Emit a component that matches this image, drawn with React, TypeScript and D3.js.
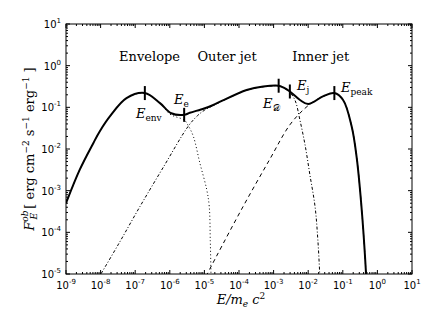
import React from 'react';
import * as d3 from 'd3';

// figure size and plot box
const W = 436;
const H = 327;
const margin = { top: 24, right: 24, bottom: 53, left: 66 };

// total spectrum (solid)
const totalE = [1e-9, 2.5e-9, 6.2e-9, 9.6e-9, 1.9e-8, 5.6e-8, 1.9e-7, 5.2e-7, 1.1e-6, 2.6e-6, 3.8e-6, 9.8e-6, 1.8e-5, 1.66e-4, 5.0e-4, 1.4e-3, 1.9e-3, 2.95e-3, 5.8e-3, 1.0e-2, 2.75e-2, 5.7e-2, 0.102, 0.18, 0.25, 0.34, 0.47, 0.5];
const totalF = [5.0e-4, 3.2e-3, 1.4e-2, 0.027, 0.062, 0.166, 0.22, 0.126, 0.072, 0.066, 0.074, 0.094, 0.114, 0.26, 0.316, 0.33, 0.30, 0.24, 0.15, 0.12, 0.186, 0.22, 0.15, 0.035, 6.6e-3, 5.0e-4, 1.0e-5, 3e-6];

// envelope component (dotted)
const envE = [1e-9, 2.5e-9, 6.2e-9, 9.6e-9, 1.9e-8, 5.6e-8, 1.9e-7, 5.2e-7, 1.0e-6, 1.6e-6, 2.6e-6, 3.5e-6, 4.8e-6, 7.4e-6, 1.17e-5, 1.38e-5, 1.48e-5, 1.55e-5, 1.6e-5];
const envF = [5.0e-4, 3.2e-3, 1.4e-2, 0.027, 0.062, 0.166, 0.22, 0.126, 0.069, 0.058, 0.050, 0.035, 0.020, 4.6e-3, 1.05e-3, 4.2e-4, 6.3e-5, 1.0e-5, 2e-6];

// outer jet component (dash-dot)
const outerE = [7.9e-9, 3.2e-8, 1.38e-7, 6.3e-7, 3.4e-6, 6.3e-6, 1.0e-5, 1.8e-5, 1.66e-4, 5.0e-4, 1.4e-3, 1.9e-3, 2.95e-3, 4.2e-3, 5.75e-3, 8.1e-3, 1.12e-2, 1.58e-2, 1.9e-2, 2.14e-2, 2.24e-2];
const outerF = [7e-6, 5e-5, 4.2e-4, 3.5e-3, 0.035, 0.063, 0.085, 0.11, 0.257, 0.31, 0.324, 0.295, 0.229, 0.145, 0.05, 0.0126, 2.4e-3, 4.1e-4, 6.6e-5, 1.1e-5, 4e-6];

// inner jet component (dashed)
const innerE = [1.12e-5, 2.2e-5, 1.32e-4, 7.6e-4, 2.95e-3, 8.1e-3, 1.58e-2, 2.75e-2, 5.7e-2, 0.102, 0.18, 0.25, 0.34, 0.47, 0.5];
const innerF = [8.9e-6, 2.6e-5, 4.2e-4, 5.5e-3, 0.038, 0.095, 0.145, 0.182, 0.216, 0.15, 0.035, 6.6e-3, 5.0e-4, 1.0e-5, 3e-6];

// marked energies on the total curve
const markE = [1.9e-7, 2.6e-6, 1.4e-3, 2.95e-3, 5.7e-2];
const markF = [0.22, 0.066, 0.33, 0.24, 0.22];

// tick exponents
const xTickExps = [-9, -8, -7, -6, -5, -4, -3, -2, -1, 0, 1];
const yTickExps = [-5, -4, -3, -2, -1, 0, 1];

const regionLabels = ['Envelope', 'Outer jet', 'Inner jet'];
const regionE = [2.6e-7, 4.5e-5, 2.3e-2];

export default function App() {
  const x = d3
    .scaleLog()
    .domain([1e-9, 1e1])
    .range([margin.left, W - margin.right]);
  const y = d3
    .scaleLog()
    .domain([1e-5, 1e1])
    .range([H - margin.bottom, margin.top]);

  const line = d3
    .line<[number, number]>()
    .x((d) => x(d[0]))
    .y((d) => y(d[1]))
    .curve(d3.curveCatmullRom.alpha(0.5));

  const x0 = margin.left;
  const x1 = W - margin.right;
  const y0 = H - margin.bottom;
  const y1 = margin.top;

  // minor ticks 2..9 in each decade
  const minor = (exps: number[]) =>
    exps.slice(0, -1).flatMap((k) => d3.range(2, 10).map((m) => m * Math.pow(10, k)));

  const tickFont = "'DejaVu Sans', sans-serif";
  const serif = "'DejaVu Serif', serif";

  const sub = (s: string, size = 9, dy = 3) => (
    <tspan fontStyle="normal" fontSize={size} dy={dy}>
      {s}
    </tspan>
  );

  return (
    <svg width={W} height={H} style={{ position: 'absolute', left: 0, top: 0, background: '#fff' }}>
      <defs>
        <clipPath id="plot">
          <rect x={x0} y={y1} width={x1 - x0} height={y0 - y1} />
        </clipPath>
      </defs>

      <g clipPath="url(#plot)" fill="none">
        <path d={line(d3.zip(envE, envF) as [number, number][]) || ''} stroke="#000" strokeWidth={1} strokeDasharray="1,2.5" />
        <path d={line(d3.zip(outerE, outerF) as [number, number][]) || ''} stroke="#000" strokeWidth={1} strokeDasharray="3,2,1,2" />
        <path d={line(d3.zip(innerE, innerF) as [number, number][]) || ''} stroke="#000" strokeWidth={1} strokeDasharray="4,3.5" />
        <path d={line(d3.zip(totalE, totalF) as [number, number][]) || ''} stroke="#000" strokeWidth={2} />
      </g>

      {markE.map((e, i) => (
        <line key={i} x1={x(e)} x2={x(e)} y1={y(markF[i]) - 7} y2={y(markF[i]) + 7} stroke="#000" strokeWidth={2} />
      ))}

      {/* frame */}
      <rect x={x0} y={y1} width={x1 - x0} height={y0 - y1} fill="none" stroke="#000" strokeWidth={1} />

      {/* x ticks, bottom and top */}
      {xTickExps.map((k) => (
        <g key={'xt' + k}>
          <line x1={x(Math.pow(10, k))} x2={x(Math.pow(10, k))} y1={y0} y2={y0 - 4} stroke="#000" />
          <line x1={x(Math.pow(10, k))} x2={x(Math.pow(10, k))} y1={y1} y2={y1 + 4} stroke="#000" />
          <text x={x(Math.pow(10, k))} y={y0 + 15} fontFamily={tickFont} fontSize={10} textAnchor="middle">
            10
            <tspan fontSize={7} dy={-5}>
              {k}
            </tspan>
          </text>
        </g>
      ))}
      {minor(xTickExps).map((v, i) => (
        <g key={'xm' + i}>
          <line x1={x(v)} x2={x(v)} y1={y0} y2={y0 - 2} stroke="#000" />
          <line x1={x(v)} x2={x(v)} y1={y1} y2={y1 + 2} stroke="#000" />
        </g>
      ))}

      {/* y ticks, left and right */}
      {yTickExps.map((k) => (
        <g key={'yt' + k}>
          <line x1={x0} x2={x0 + 4} y1={y(Math.pow(10, k))} y2={y(Math.pow(10, k))} stroke="#000" />
          <line x1={x1} x2={x1 - 4} y1={y(Math.pow(10, k))} y2={y(Math.pow(10, k))} stroke="#000" />
          <text x={61} y={y(Math.pow(10, k)) + 4} fontFamily={tickFont} fontSize={10} textAnchor="end">
            10
            <tspan fontSize={7} dy={-5}>
              {k}
            </tspan>
          </text>
        </g>
      ))}
      {minor(yTickExps).map((v, i) => (
        <g key={'ym' + i}>
          <line x1={x0} x2={x0 + 2} y1={y(v)} y2={y(v)} stroke="#000" />
          <line x1={x1} x2={x1 - 2} y1={y(v)} y2={y(v)} stroke="#000" />
        </g>
      ))}

      {/* region labels */}
      {regionLabels.map((t, i) => (
        <text key={t} x={x(regionE[i])} y={61} fontFamily={serif} fontSize={13} textAnchor="middle">
          {t}
        </text>
      ))}

      {/* marked energy labels */}
      <g fontFamily={serif} fontSize={13} fontStyle="italic">
        <text x={136} y={118}>
          E{sub('env')}
        </text>
        <text x={174} y={104}>
          E{sub('e')}
        </text>
        <text x={263} y={108}>
          E{sub('𝒟')}
        </text>
        <text x={297} y={90}>
          E{sub('j')}
        </text>
        <text x={341} y={92}>
          E{sub('peak')}
        </text>
      </g>

      {/* axis labels */}
      <text x={241} y={304} fontFamily={serif} fontSize={13} fontStyle="italic" textAnchor="middle">
        E/m
        <tspan fontSize={9} dy={3}>e</tspan>
        <tspan dy={-3}> c</tspan>
        <tspan fontSize={9} fontStyle="normal" dy={-5}>2</tspan>
      </text>
      <text transform={`translate(34,${(y0 + y1) / 2}) rotate(-90)`} fontFamily={serif} fontSize={13} textAnchor="middle">
        <tspan fontStyle="italic">F</tspan>
        <tspan fontStyle="italic" fontSize={9} dy={-6}>ob</tspan>
        <tspan fontStyle="italic" fontSize={9} dx={-9} dy={9}>E</tspan>
        <tspan dy={-3}> [ erg cm</tspan>
        <tspan fontSize={9} dy={-5}>−2</tspan>
        <tspan dy={5}> s</tspan>
        <tspan fontSize={9} dy={-5}>−1</tspan>
        <tspan dy={5}> erg</tspan>
        <tspan fontSize={9} dy={-5}>−1</tspan>
        <tspan dy={5}> ]</tspan>
      </text>
    </svg>
  );
}
